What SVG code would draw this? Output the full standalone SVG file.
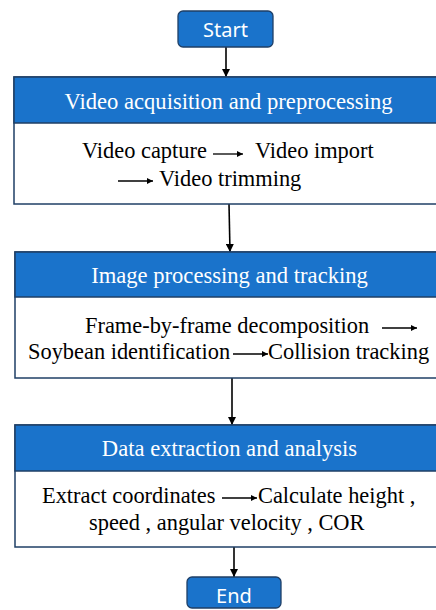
<svg xmlns="http://www.w3.org/2000/svg" width="436" height="610" viewBox="0 0 436 610">
<defs>
<marker id="ah" viewBox="0 0 10 10" refX="10" refY="5" markerWidth="8" markerHeight="8" markerUnits="userSpaceOnUse" orient="auto"><path d="M0,0 L10,5 L0,10 z" fill="#000"/></marker>
<marker id="sh" viewBox="0 0 10 10" refX="10" refY="5" markerWidth="7" markerHeight="6" markerUnits="userSpaceOnUse" orient="auto"><path d="M0,0 L10,5 L0,10 z" fill="#000"/></marker>
<style>
.term{fill:#1a73cb;stroke:#1f3f66;stroke-width:1.3}
.hdr{fill:#1a73cb;stroke:#1f3f66;stroke-width:1.5}
.body{fill:#fff;stroke:#1f3f66;stroke-width:1.5}
.tt{font-family:'Noto Sans','Open Sans',sans-serif;font-size:20px;fill:#fff;text-anchor:middle}
.ht{font-family:'Liberation Serif','Times New Roman','DejaVu Serif',serif;font-size:22.6px;fill:#fff;text-anchor:middle}
.bt{font-family:'Liberation Serif','Times New Roman','DejaVu Serif',serif;font-size:22.4px;fill:#000}
.conn{stroke:#000;stroke-width:1.6;fill:none}
.ia{stroke:#000;stroke-width:1.3;fill:none}
</style>
</defs>
<g id="connectors">
<line class="conn" x1="226" y1="47" x2="226" y2="77" marker-end="url(#ah)"/>
<line class="conn" x1="229" y1="204" x2="230" y2="252" marker-end="url(#ah)"/>
<line class="conn" x1="232" y1="378" x2="232" y2="425" marker-end="url(#ah)"/>
<line class="conn" x1="234" y1="547" x2="234" y2="577" marker-end="url(#ah)"/>
</g>
<g id="start">
<rect class="term" x="178" y="11" width="95" height="36" rx="5"/>
<text class="tt" x="225.5" y="37">Start</text>
</g>
<g id="step1">
<rect class="body" x="14" y="77" width="430" height="127"/>
<rect class="hdr" x="14" y="77" width="430" height="46"/>
<text class="ht" x="228.5" y="109" font-family="Liberation Serif, serif">Video acquisition and preprocessing</text>
<text class="bt" x="82" y="158" font-family="Liberation Serif, serif">Video capture</text>
<line class="ia" x1="213" y1="154" x2="243" y2="154" marker-end="url(#sh)"/>
<text class="bt" x="255" y="158" font-family="Liberation Serif, serif">Video import</text>
<line class="ia" x1="118" y1="181" x2="153" y2="181" marker-end="url(#sh)"/>
<text class="bt" x="159" y="186" font-family="Liberation Serif, serif">Video trimming</text>
</g>
<g id="step2">
<rect class="body" x="15" y="252" width="430" height="126"/>
<rect class="hdr" x="15" y="252" width="430" height="45"/>
<text class="ht" x="229.5" y="283" font-family="Liberation Serif, serif">Image processing and tracking</text>
<text class="bt" x="85" y="333" font-family="Liberation Serif, serif">Frame-by-frame decomposition</text>
<line class="ia" x1="382" y1="328" x2="417" y2="328" marker-end="url(#sh)"/>
<text class="bt" x="28" y="359" font-family="Liberation Serif, serif">Soybean identification</text>
<line class="ia" x1="233" y1="354" x2="268" y2="354" marker-end="url(#sh)"/>
<text class="bt" x="268" y="359" font-family="Liberation Serif, serif">Collision tracking</text>
</g>
<g id="step3">
<rect class="body" x="15" y="425" width="430" height="122"/>
<rect class="hdr" x="15" y="425" width="430" height="46"/>
<text class="ht" x="229.5" y="456" font-family="Liberation Serif, serif">Data extraction and analysis</text>
<text class="bt" x="42" y="503" font-family="Liberation Serif, serif">Extract coordinates</text>
<line class="ia" x1="222" y1="498" x2="257" y2="498" marker-end="url(#sh)"/>
<text class="bt" x="258" y="503" font-family="Liberation Serif, serif">Calculate height ,</text>
<text class="bt" x="89" y="530" font-family="Liberation Serif, serif">speed , angular velocity , COR</text>
</g>
<g id="end">
<rect class="term" x="187" y="577" width="94" height="31" rx="5"/>
<text class="tt" x="234" y="603">End</text>
</g>
</svg>
